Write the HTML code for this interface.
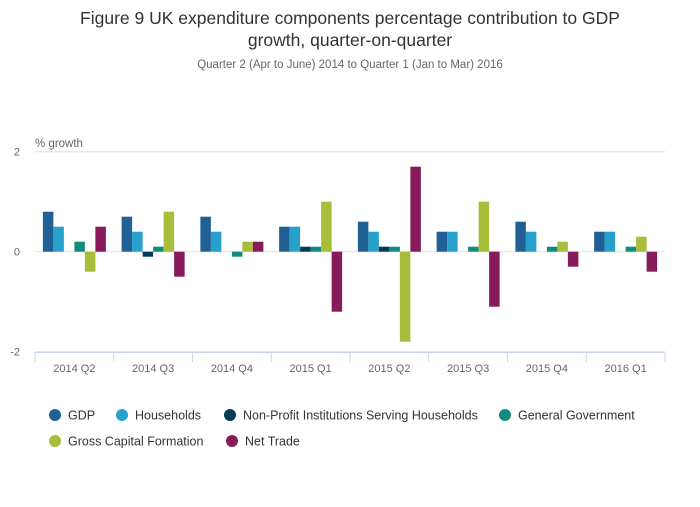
<!DOCTYPE html>
<html><head><meta charset="utf-8"><style>
body{margin:0;background:#fff;font-family:"Liberation Sans",sans-serif;}
svg text{font-family:"Liberation Sans",sans-serif;}
</style></head><body>
<svg id="chart" width="700" height="502" xmlns="http://www.w3.org/2000/svg">
<text x="350" y="24" text-anchor="middle" font-size="17.5" fill="#333">Figure 9 UK expenditure components percentage contribution to GDP</text>
<text x="350" y="46" text-anchor="middle" font-size="17.5" fill="#333">growth, quarter-on-quarter</text>
<text x="350" y="68" text-anchor="middle" font-size="11.5" fill="#666">Quarter 2 (Apr to June) 2014 to Quarter 1 (Jan to Mar) 2016</text>
<text x="35" y="147" font-size="11.5" fill="#666">% growth</text>
<g id="grid"></g><g id="bars"></g><g id="xaxis"></g><g id="legend"></g>
</svg>
<script>
const categories=["2014 Q2","2014 Q3","2014 Q4","2015 Q1","2015 Q2","2015 Q3","2015 Q4","2016 Q1"];
const seriesNames=["GDP","Households","Non-Profit Institutions Serving Households","General Government","Gross Capital Formation","Net Trade"];
const seriesColors=["#206095","#27a0cc","#003c57","#118c7b","#a8bd3a","#871a5b"];
const gdp=[0.8,0.7,0.7,0.5,0.6,0.4,0.6,0.4];
const households=[0.5,0.4,0.4,0.5,0.4,0.4,0.4,0.4];
const npish=[0,-0.1,0,0.1,0.1,0,0,0];
const govt=[0.2,0.1,-0.1,0.1,0.1,0.1,0.1,0.1];
const gcf=[-0.4,0.8,0.2,1.0,-1.8,1.0,0.2,0.3];
const netTrade=[0.5,-0.5,0.2,-1.2,1.7,-1.1,-0.3,-0.4];
const yTicks=[2,0,-2];
const series=[gdp,households,npish,govt,gcf,netTrade];
const NS="http://www.w3.org/2000/svg";
const x0=35,x1=665,yTop=151.7,yBot=351.7;
const y=v=>yTop+(2-v)*(yBot-yTop)/4;
const bw=(x1-x0)/categories.length;
function mk(tag,attrs,parent){const e=document.createElementNS(NS,tag);for(const k in attrs)e.setAttribute(k,attrs[k]);document.getElementById(parent).appendChild(e);return e;}
yTicks.forEach(t=>{
 const l=mk("line",{x1:x0,x2:x1,y1:y(t),y2:y(t),stroke:"#e0e0e0","stroke-width":1},"grid");
 
 
 const tx=mk("text",{x:20,y:y(t)+4,"text-anchor":"end","font-size":11,fill:"#666"},"grid");tx.textContent=t;
 
 
});
const barW=10.5;
categories.forEach((c,i)=>{
 const gx=x0+i*bw+(bw-barW*6)/2;
 series.forEach((s,j)=>{
  const v=s[i]; if(v===0)return;
  const r=mk("rect",{x:gx+j*barW,y:Math.min(y(v),y(0)),width:barW,height:Math.abs(y(v)-y(0)),fill:seriesColors[j]},"bars");
  
  
 });
 const tx=mk("text",{x:x0+(i+0.5)*bw,y:372,"text-anchor":"middle","font-size":11,fill:"#666"},"xaxis");tx.textContent=c;
 
 
});
const ax=mk("line",{x1:x0,x2:x1,y1:352.5,y2:352.5,stroke:"#ccd6eb"},"xaxis");


for(let i=0;i<=categories.length;i++){
 const tk=mk("line",{x1:x0+i*bw,x2:x0+i*bw,y1:352,y2:362,stroke:"#ccd6eb"},"xaxis");
 
 
}
const legPos=[[55,415],[122,415],[230,415],[505,415],[55,441],[232,441]];
seriesNames.forEach((n,j)=>{
 const c=mk("circle",{cx:legPos[j][0],cy:legPos[j][1],r:6,fill:seriesColors[j]},"legend");
 
 
 const t=mk("text",{x:legPos[j][0]+13,y:legPos[j][1]+4.5,"font-size":12.5,fill:"#333"},"legend");t.textContent=n;
 
 
});
</script>
</body></html>
